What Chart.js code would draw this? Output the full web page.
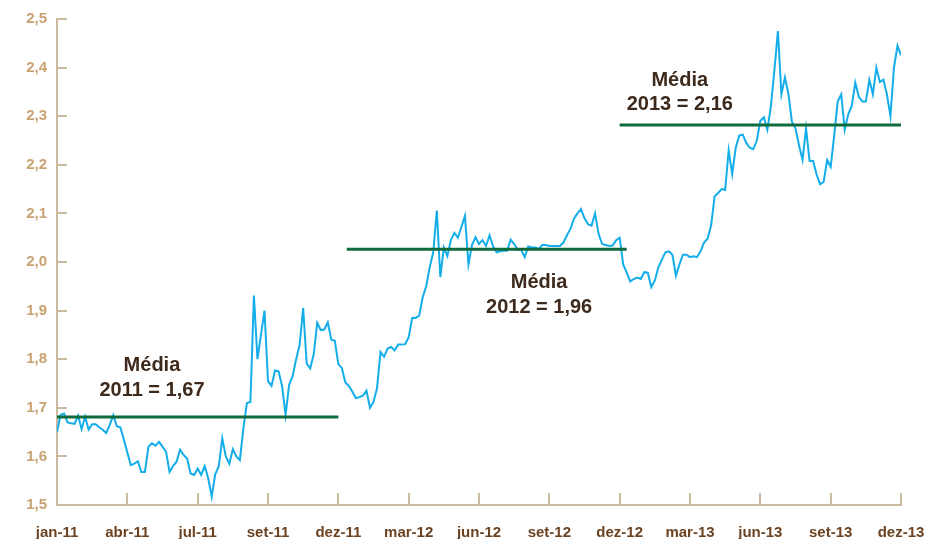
<!DOCTYPE html>
<html>
<head>
<meta charset="utf-8">
<script src="https://cdn.jsdelivr.net/npm/chart.js@4/dist/chart.umd.min.js"></script>
<style>
  html, body { margin: 0; padding: 0; background: #fff; }
  #wrap { width: 928px; height: 539px; position: relative; }
</style>
</head>
<body>
<div id="wrap"><canvas id="chart"></canvas></div>
<script>
// rótulos do eixo x (um a cada 20 pontos da série)
const tickLabels = ['jan-11', 'abr-11', 'jul-11', 'set-11', 'dez-11', 'mar-12', 'jun-12',
  'set-12', 'dez-12', 'mar-13', 'jun-13', 'set-13', 'dez-13']

// cotação R$/US$
const rates = [
  1.650, 1.685, 1.688, 1.670, 1.668, 1.667, 1.684, 1.656, 1.682, 1.655, 1.666, 1.666, 1.660, 1.655, 1.648, 1.665, 1.685, 1.662, 1.660, 1.635,
  1.608, 1.582, 1.585, 1.590, 1.568, 1.568, 1.620, 1.627, 1.622, 1.630, 1.620, 1.610, 1.568, 1.580, 1.589, 1.614, 1.603, 1.595, 1.565, 1.562,
  1.575, 1.562, 1.580, 1.555, 1.517, 1.563, 1.580, 1.637, 1.600, 1.585, 1.615, 1.600, 1.592, 1.658, 1.710, 1.712, 1.931, 1.800, 1.850, 1.900,
  1.755, 1.745, 1.777, 1.775, 1.745, 1.685, 1.747, 1.765, 1.800, 1.830, 1.905, 1.791, 1.781, 1.810, 1.875, 1.860, 1.861, 1.876, 1.840, 1.838,
  1.790, 1.782, 1.752, 1.745, 1.733, 1.720, 1.722, 1.725, 1.735, 1.700, 1.712, 1.740, 1.815, 1.805, 1.822, 1.825, 1.818, 1.830, 1.830, 1.831,
  1.845, 1.885, 1.885, 1.890, 1.928, 1.950, 1.990, 2.020, 2.106, 1.969, 2.030, 2.012, 2.045, 2.060, 2.050, 2.072, 2.095, 1.995, 2.035, 2.051,
  2.037, 2.045, 2.033, 2.055, 2.032, 2.020, 2.022, 2.023, 2.023, 2.046, 2.037, 2.025, 2.025, 2.010, 2.032, 2.030, 2.030, 2.027, 2.035, 2.035,
  2.033, 2.033, 2.033, 2.033, 2.040, 2.055, 2.068, 2.089, 2.100, 2.109, 2.090, 2.078, 2.075, 2.100, 2.058, 2.037, 2.035, 2.033, 2.034, 2.045,
  2.050, 1.995, 1.978, 1.960, 1.965, 1.968, 1.965, 1.979, 1.978, 1.948, 1.962, 1.989, 2.005, 2.020, 2.022, 2.015, 1.972, 1.995, 2.015, 2.015,
  2.010, 2.012, 2.010, 2.022, 2.040, 2.048, 2.075, 2.135, 2.142, 2.150, 2.148, 2.230, 2.181, 2.235, 2.260, 2.262, 2.245, 2.235, 2.232, 2.250,
  2.290, 2.298, 2.272, 2.320, 2.395, 2.475, 2.345, 2.380, 2.345, 2.288, 2.275, 2.240, 2.210, 2.275, 2.208, 2.208, 2.180, 2.160, 2.165, 2.210,
  2.196, 2.260, 2.330, 2.345, 2.272, 2.304, 2.321, 2.369, 2.340, 2.330, 2.330, 2.375, 2.345, 2.400, 2.370, 2.375, 2.345, 2.300, 2.400, 2.445, 2.425
]

// médias anuais: texto e nível em que a linha verde aparece
const meanYears = ['2011', '2012', '2013']
const meanText = ['1,67', '1,96', '2,16']
const meanLevels = [1.681, 2.026, 2.282]
const meanFrom = [0, 82.4, 160]
const meanTo = [80, 162, 240]

const STEP = 20
const FONT = '"Liberation Sans", Arial, sans-serif'
const AXIS = '#c9baa0'

// posição dos textos "Média" (x em pontos, y em R$)
const notePos = [[27, 1.787, 1.736], [137.1, 1.9585, 1.907], [177.1, 2.3727, 2.325]]

// marcas dos eixos desenhadas para dentro
const axisTicks = {
  id: 'axisTicks',
  beforeDatasetsDraw(chart) {
    const { ctx, scales: { x, y } } = chart
    ctx.save()
    ctx.strokeStyle = AXIS
    ctx.lineWidth = 2
    ctx.beginPath()
    y.ticks.forEach(t => {
      const py = Math.round(y.getPixelForValue(t.value))
      ctx.moveTo(x.left, py)
      ctx.lineTo(x.left + 10, py)
    })
    x.ticks.forEach(t => {
      const px = Math.round(x.getPixelForValue(t.value))
      ctx.moveTo(px, y.bottom)
      ctx.lineTo(px, y.bottom - 12)
    })
    ctx.stroke()
    ctx.restore()
  }
}

// textos das médias
const meanNotes = {
  id: 'meanNotes',
  afterDatasetsDraw(chart) {
    const { ctx, scales: { x, y } } = chart
    ctx.save()
    ctx.fillStyle = '#3d2a1c'
    ctx.font = 'bold 20px ' + FONT
    ctx.textAlign = 'center'
    ctx.textBaseline = 'middle'
    notePos.forEach((p, i) => {
      const px = x.getPixelForValue(p[0])
      ctx.fillText('Média', px, y.getPixelForValue(p[1]))
      ctx.fillText(meanYears[i] + ' = ' + meanText[i], px, y.getPixelForValue(p[2]))
    })
    ctx.restore()
  }
}

const meanSets = meanLevels.map((lv, i) => ({
  data: [{ x: meanFrom[i], y: lv }, { x: meanTo[i], y: lv }],
  borderColor: '#0f6a3c',
  borderWidth: 3,
  pointRadius: 0,
  borderCapStyle: 'butt'
}))

const lineChart = document.getElementById('chart')
new Chart(lineChart, {
  type: 'line',
  data: {
    datasets: [
      ...meanSets,
      {
        data: rates.map((v, i) => ({ x: i, y: v })),
        borderColor: '#13aeea',
        borderWidth: 2,
        pointRadius: 0,
        tension: 0
      }
    ]
  },
  options: {
    responsive: true,
    maintainAspectRatio: false,
    animation: false,
    layout: { padding: { top: 18, right: 27, left: 0, bottom: 0 } },
    plugins: { legend: { display: false }, tooltip: { enabled: false } },
    scales: {
      x: {
        type: 'linear',
        min: 0,
        max: (tickLabels.length - 1) * STEP,
        afterFit: s => {
          s.height = 34
          s.paddingLeft = 0
          s.paddingRight = 0
        },
        grid: { display: false, drawTicks: false },
        border: { color: AXIS, width: 2 },
        ticks: {
          stepSize: STEP,
          autoSkip: false,
          maxRotation: 0,
          padding: 19,
          color: '#6b4322',
          font: { family: FONT, size: 15, weight: 'bold' },
          callback: v => tickLabels[v / STEP]
        }
      },
      y: {
        min: 1.5,
        max: 2.5,
        afterFit: s => { s.width = 57 },
        grid: { display: false, drawTicks: false },
        border: { color: AXIS, width: 2 },
        ticks: {
          stepSize: 0.1,
          padding: 10,
          color: '#c9a272',
          font: { family: FONT, size: 15, weight: 'bold' },
          callback: v => v.toFixed(1).replace('.', ',')
        }
      }
    }
  },
  plugins: [axisTicks, meanNotes]
})
</script>
</body>
</html>
